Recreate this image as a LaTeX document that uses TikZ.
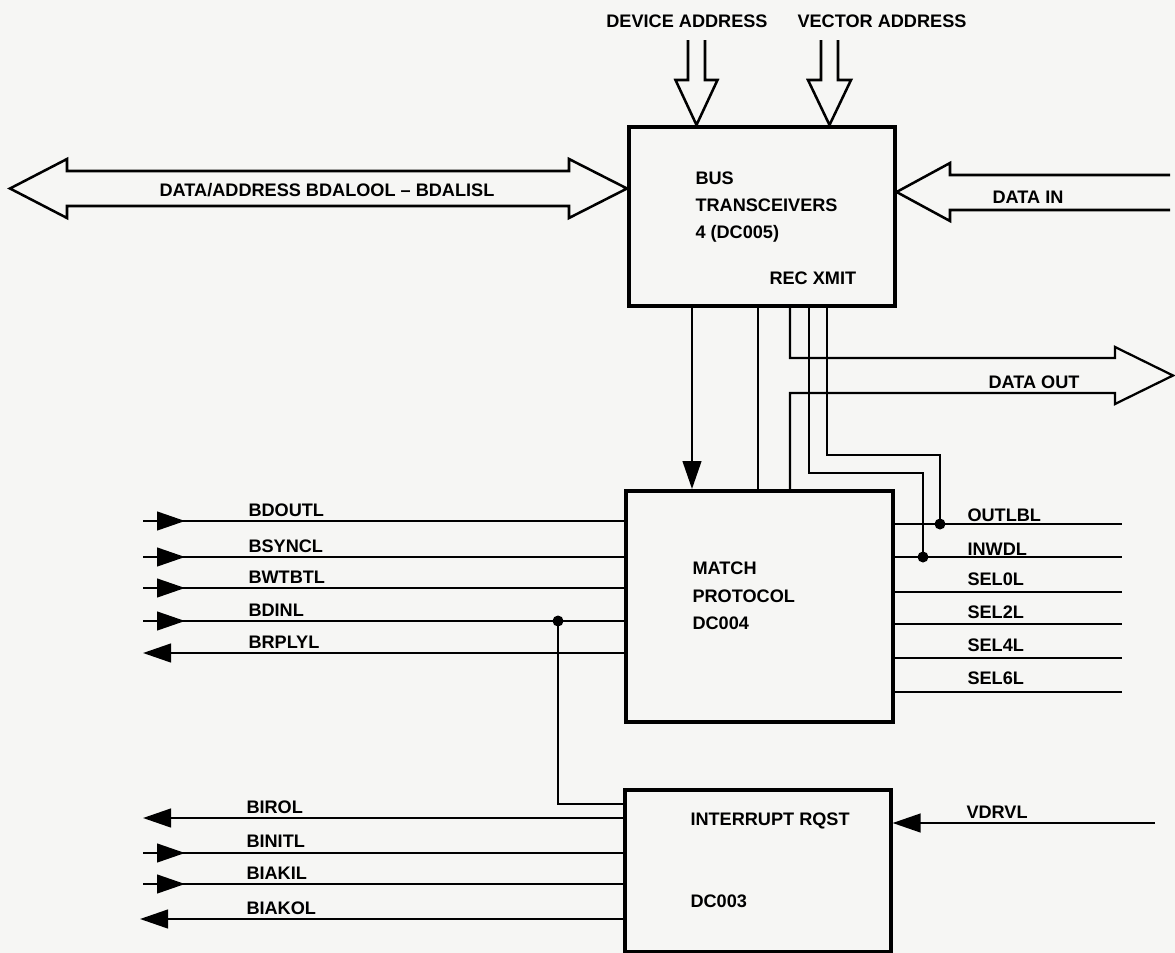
\documentclass[tikz,border=0pt]{standalone}
\usepackage{fontspec}
\newfontfamily\diafont[Ligatures=TeX]{Liberation Sans}
\usetikzlibrary{arrows.meta,decorations.markings}
\definecolor{paper}{RGB}{246,246,244}

\tikzset{every picture/.style={line width=0.75pt}}
\tikzset{
  sigtip/.tip={Triangle[length=21pt,width=14pt]},
  blockbox/.style={draw, line width=2.7pt, anchor=north west, inner sep=0pt},
  sig/.style={line width=1.7pt},
  busarrow/.style={line width=1.9pt, line join=miter},
  midtip/.style={postaction={decorate}, decoration={markings, mark=at position 31.5pt with {\arrow{sigtip}}}},
  lbl/.style={inner sep=0pt, font={\diafont\bfseries\fontsize{13.6}{16}\selectfont}},
}

\begin{document}
\begin{tikzpicture}[x=0.75pt,y=0.75pt,yscale=-1,xscale=1]
\useasboundingbox (0,0) rectangle (1175,953);
\fill[paper] (0,0) rectangle (1175,953);

%Shape: Rectangle [bus transceivers]
\node[blockbox, minimum width=199.5pt, minimum height=134.25pt] (bus) at (627,125) {};
%Shape: Rectangle [match protocol]
\node[blockbox, minimum width=200.25pt, minimum height=173.25pt] (match) at (624,489) {};
%Shape: Rectangle [interrupt request]
\node[blockbox, minimum width=199.5pt, minimum height=121.5pt] (intr) at (623,788) {};

% reference points
\coordinate (devc) at (696.5,60);
\coordinate (vecc) at (829.5,60);
\coordinate (dac) at (300,188.5);
\coordinate (dic) at (1000,192);
\coordinate (vA) at (692,400);
\coordinate (vB) at (758,400);
\coordinate (vC) at (790,400);
\coordinate (vD) at (809,400);
\coordinate (vE) at (827,400);

%Bus Arrows
\draw[busarrow] (688,40) -- (688,80) -- (675.5,80) -- (bus.north -| devc) -- (717.5,80) -- (705,80) -- (705,40);
\draw[busarrow] (821,40) -- (821,80) -- (808,80) -- (bus.north -| vecc) -- (851,80) -- (838,80) -- (838,40);
\draw[busarrow] (10,188.5) -- (67,159) -- (67,171) -- (569,171) -- (569,159) -- (bus.west |- dac) -- (569,218) -- (569,206) -- (67,206) -- (67,218) -- cycle;
\draw[busarrow] (1170,175) -- (950,175) -- (950,163) -- (bus.east |- dic) -- (950,221) -- (950,210) -- (1170,210);

%Straight Lines [transceivers to match protocol]
\draw[sig, -{sigtip}] (bus.south -| vA) -- (match.north -| vA);
\draw[sig] (bus.south -| vB) -- (match.north -| vB);
\coordinate (dotop) at (1115,358);
\coordinate (dobot) at (1115,393);
\coordinate (dotip) at (1173,375.5);
\draw[sig] (bus.south -| vC) |- (dotop) -- (1115,347) -- (dotip) -- (1115,404) -- (dobot) -| (match.north -| vC);
\coordinate (bendD) at (923,473);
\coordinate (jInwdl) at (923,557);
\draw[sig] (bus.south -| vD) |- (bendD) -- (jInwdl);
\coordinate (bendE) at (940,455);
\coordinate (jOutlbl) at (940,524);
\draw[sig] (bus.south -| vE) |- (bendE) -- (jOutlbl);
\fill (jInwdl) circle[radius=5.5];
\fill (jOutlbl) circle[radius=5.5];

%Straight Lines [bus side of match protocol]
\coordinate (sBdout) at (143,521);
\coordinate (sBsync) at (143,557);
\coordinate (sBwtbt) at (143,588);
\coordinate (sBdin) at (143,621);
\coordinate (sBrply) at (143,653);
\draw[sig, midtip] (sBdout) -- (match.west |- sBdout);
\draw[sig, midtip] (sBsync) -- (match.west |- sBsync);
\draw[sig, midtip] (sBwtbt) -- (match.west |- sBwtbt);
\draw[sig, midtip] (sBdin) -- (match.west |- sBdin);
\draw[sig, -{sigtip}] (match.west |- sBrply) -- (sBrply);
\coordinate (jBdin) at (558,621);
\coordinate (bendI) at (558,804);
\draw[sig] (jBdin) |- (intr.west |- bendI);
\fill (jBdin) circle[radius=5.5];

%Straight Lines [device side of match protocol]
\coordinate (sOutlbl) at (1122,524);
\coordinate (sInwdl) at (1122,557);
\coordinate (sSel0) at (1122,592);
\coordinate (sSel2) at (1122,624);
\coordinate (sSel4) at (1122,658);
\coordinate (sSel6) at (1122,692);
\draw[sig] (match.east |- sOutlbl) -- (sOutlbl);
\draw[sig] (match.east |- sInwdl) -- (sInwdl);
\draw[sig] (match.east |- sSel0) -- (sSel0);
\draw[sig] (match.east |- sSel2) -- (sSel2);
\draw[sig] (match.east |- sSel4) -- (sSel4);
\draw[sig] (match.east |- sSel6) -- (sSel6);

%Straight Lines [interrupt request]
\coordinate (sBirq) at (143,818);
\coordinate (sBinit) at (143,853);
\coordinate (sBiaki) at (143,884);
\coordinate (sBiako) at (140,919);
\coordinate (sVdrv) at (1155,823);
\draw[sig, -{sigtip}] (intr.west |- sBirq) -- (sBirq);
\draw[sig, midtip] (sBinit) -- (intr.west |- sBinit);
\draw[sig, midtip] (sBiaki) -- (intr.west |- sBiaki);
\draw[sig, -{sigtip}] (intr.west |- sBiako) -- (sBiako);
\draw[sig, -{sigtip}] (sVdrv) -- (intr.east |- sVdrv);

% Text Node
\draw (687,27.5) node [lbl, anchor=base] (tdev) {DEVICE ADDRESS};
% Text Node
\draw (882,27.5) node [lbl, anchor=base] (tvec) {VECTOR ADDRESS};
% Text Node
\draw (327,196.5) node [lbl, anchor=base] (tda) {DATA/ADDRESS BDALOOL – BDALISL};
% Text Node
\draw (1028,203.5) node [lbl, anchor=base] (tdin) {DATA IN};
% Text Node
\draw (1034,388.5) node [lbl, anchor=base] (tdout) {DATA OUT};
% Text Node
\draw (695,184.5) node [lbl, anchor=base west] (tbus1) {BUS};
\draw (695,211.5) node [lbl, anchor=base west] (tbus2) {TRANSCEIVERS};
\draw (695,238.5) node [lbl, anchor=base west] (tbus3) {4 (DC005)};
\draw (769,284.5) node [lbl, anchor=base west] (trx) {REC XMIT};
% Text Node
\draw (692,574.5) node [lbl, anchor=base west] (tmat1) {MATCH};
\draw (692,602.5) node [lbl, anchor=base west] (tmat2) {PROTOCOL};
\draw (692,629.5) node [lbl, anchor=base west] (tmat3) {DC004};
% Text Node
\draw (690,825.5) node [lbl, anchor=base west] (tint1) {INTERRUPT RQST};
\draw (690,907.5) node [lbl, anchor=base west] (tint2) {DC003};
% Text Node
\draw (248,516) node [lbl, anchor=base west] (tbdout) {BDOUTL};
\draw (248,552) node [lbl, anchor=base west] (tbsync) {BSYNCL};
\draw (248,583) node [lbl, anchor=base west] (tbwtbt) {BWTBTL};
\draw (248,616) node [lbl, anchor=base west] (tbdin) {BDINL};
\draw (248,648) node [lbl, anchor=base west] (tbrply) {BRPLYL};
% Text Node
\draw (246,813) node [lbl, anchor=base west] (tbirq) {BIROL};
\draw (246,847) node [lbl, anchor=base west] (tbinit) {BINITL};
\draw (246,879) node [lbl, anchor=base west] (tbiaki) {BIAKIL};
\draw (246,914) node [lbl, anchor=base west] (tbiako) {BIAKOL};
% Text Node
\draw (967,521.5) node [lbl, anchor=base west] (toutlbl) {OUTLBL};
\draw (967,555) node [lbl, anchor=base west] (tinwdl) {INWDL};
\draw (967,585) node [lbl, anchor=base west] (tsel0) {SEL0L};
\draw (967,618.5) node [lbl, anchor=base west] (tsel2) {SEL2L};
\draw (967,651.5) node [lbl, anchor=base west] (tsel4) {SEL4L};
\draw (967,684.5) node [lbl, anchor=base west] (tsel6) {SEL6L};
\draw (966,818) node [lbl, anchor=base west] (tvdrv) {VDRVL};

\end{tikzpicture}
\end{document}
